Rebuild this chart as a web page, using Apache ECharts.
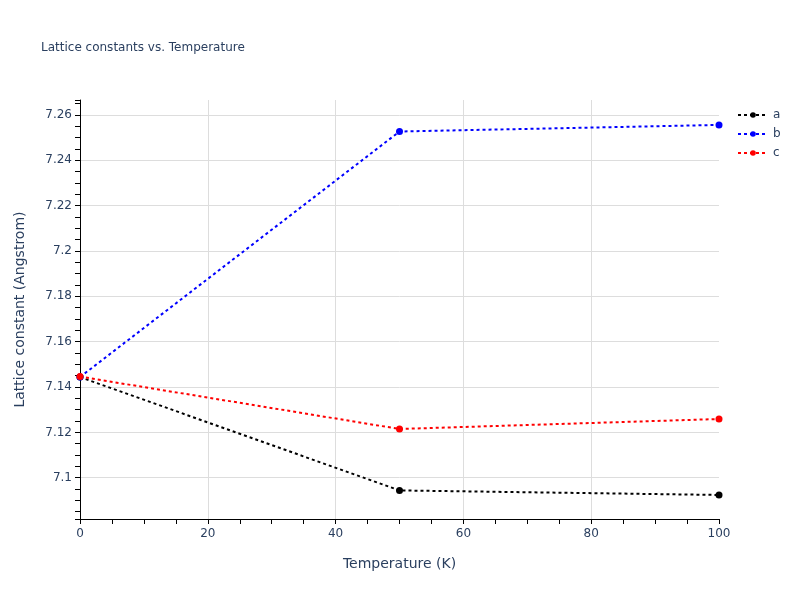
<!DOCTYPE html>
<html>
<head>
<meta charset="utf-8">
<script src="https://cdn.jsdelivr.net/npm/echarts@6/dist/echarts.min.js"></script>
<style>html,body{margin:0;padding:0;background:#fff;}#c{width:800px;height:600px;}</style>
</head>
<body>
<div id="c"></div>
<script>
var temperatures = [0, 50, 100];
var seriesNames = ['a', 'b', 'c'];
var latticeA = [7.1444, 7.0944, 7.0924];
var latticeB = [7.1444, 7.2527, 7.2556];
var latticeC = [7.1446, 7.1215, 7.1259];
var seriesColors = ['#000000', '#0000ff', '#ff0000'];
var yMin = 7.0818, yMax = 7.2666;

var FONT = '"DejaVu Sans", Verdana, sans-serif';
var TXT = '#2a3f5f';
var GRID = '#dddddd';
var values = [latticeA, latticeB, latticeC];

function pairs(xs, ys) { return xs.map(function (x, i) { return [x, ys[i]]; }); }

var series = seriesNames.map(function (n, k) {
  return {
    name: n, type: 'line', yAxisIndex: 0,
    data: pairs(temperatures, values[k]),
    symbol: 'circle', symbolSize: 7,
    itemStyle: { color: seriesColors[k] },
    lineStyle: { color: seriesColors[k], width: 2, type: [3, 3] },
    z: 2 + k
  };
});

var chart = echarts.init(document.getElementById('c'), null, { renderer: 'canvas' });
chart.setOption({
  animation: false,
  backgroundColor: '#ffffff',
  title: {
    text: 'Lattice constants vs. Temperature',
    left: 36, top: 37,
    textStyle: { fontFamily: FONT, fontSize: 12, fontWeight: 'normal', color: TXT }
  },
  legend: {
    orient: 'vertical', left: 732, top: 104,
    itemWidth: 30, itemHeight: 7, itemGap: 7,
    textStyle: { fontFamily: FONT, fontSize: 12, color: TXT },
    data: seriesNames
  },
  grid: { left: 80, right: 81, top: 100, bottom: 81, containLabel: false },
  xAxis: {
    type: 'value', min: 0, max: 100, interval: 20,
    name: 'Temperature (K)', nameLocation: 'middle', nameGap: 38,
    nameTextStyle: { fontFamily: FONT, fontSize: 14, color: TXT },
    axisLine: { show: true, onZero: false, lineStyle: { color: '#000', width: 1 } },
    axisTick: { show: true, length: 5, lineStyle: { color: '#000' } },
    minorTick: { show: true, splitNumber: 4, length: 5, lineStyle: { color: '#000' } },
    axisLabel: { fontFamily: FONT, fontSize: 12, color: TXT, margin: 9 },
    splitLine: { show: true, showMinLine: false, showMaxLine: false, lineStyle: { color: GRID, width: 1 } }
  },
  yAxis: [{
    type: 'value', min: yMin, max: yMax, splitNumber: 9, position: 'left',
    name: 'Lattice constant (Angstrom)', nameLocation: 'middle', nameGap: 53,
    nameTextStyle: { fontFamily: FONT, fontSize: 14, color: TXT },
    axisLine: { show: false },
    axisTick: { show: false },
    axisLabel: { fontFamily: FONT, fontSize: 12, color: TXT, margin: 8, showMinLabel: false, showMaxLabel: false,
      formatter: function (v) { return String(Math.round(v * 1000) / 1000); } },
    splitLine: { show: true, showMinLine: false, showMaxLine: false, lineStyle: { color: GRID, width: 1 } }
  }, {
    type: 'value', min: yMin, max: yMax, splitNumber: 37, position: 'left',
    axisLine: { show: true, onZero: false, lineStyle: { color: '#000', width: 1 } },
    axisTick: { show: true, length: 5, lineStyle: { color: '#000' } },
    axisLabel: { show: false },
    splitLine: { show: false }
  }],
  series: series
});
</script>
</body>
</html>
